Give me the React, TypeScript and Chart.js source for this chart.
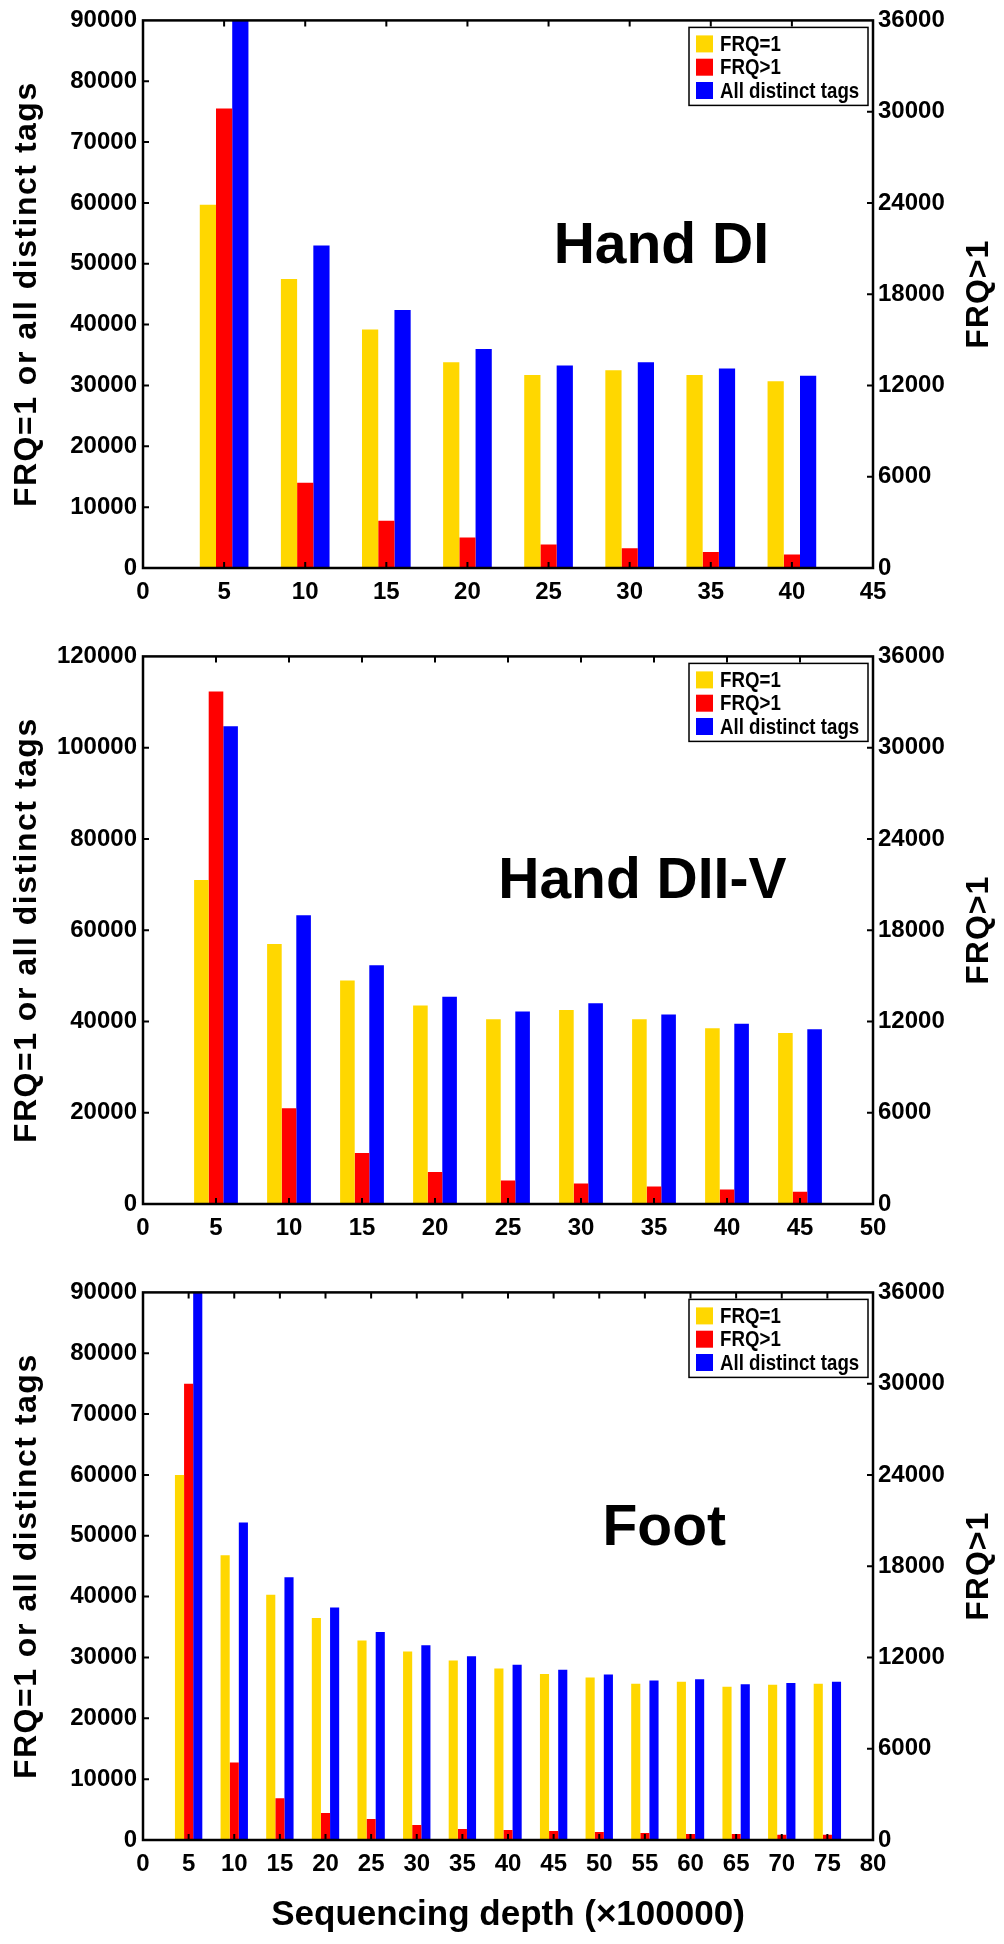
import { useEffect, useRef } from 'react';
import { Chart, registerables } from 'chart.js';

Chart.register(...registerables);

// ---------- data ----------
const depthDI = [5, 10, 15, 20, 25, 30, 35, 40];
const frq1DI = [59700, 47500, 39200, 33800, 31700, 32500, 31700, 30700];
const frqGt1DI = [30200, 5600, 3100, 2000, 1550, 1300, 1050, 880];
const allDI = [89900, 53000, 42400, 36000, 33300, 33800, 32800, 31600];

const depthDIIV = [5, 10, 15, 20, 25, 30, 35, 40, 45];
const frq1DIIV = [71000, 57000, 49000, 43500, 40500, 42500, 40500, 38500, 37500];
const frqGt1DIIV = [33700, 6300, 3350, 2100, 1550, 1350, 1150, 950, 800];
const allDIIV = [104700, 63300, 52300, 45400, 42200, 44000, 41500, 39500, 38300];

const depthFoot = [5, 10, 15, 20, 25, 30, 35, 40, 45, 50, 55, 60, 65, 70, 75];
const frq1Foot = [60000, 46800, 40300, 36500, 32800, 31000, 29500, 28200, 27300, 26700, 25700, 26000, 25200, 25500, 25700];
const frqGt1Foot = [30000, 5100, 2750, 1770, 1380, 990, 720, 660, 590, 525, 460, 400, 390, 350, 350];
const allFoot = [90000, 52200, 43200, 38200, 34200, 32000, 30200, 28800, 28000, 27200, 26200, 26400, 25600, 25800, 26000];

const panelNames = ['Hand DI', 'Hand DII-V', 'Foot'];
const xMaxes = [45, 50, 80];
const leftMaxes = [90000, 120000, 90000];
const leftSteps = [10000, 20000, 10000];
const rightMax = 36000;
const rightStep = 6000;
const xStep = 5;

const legendLabels = ['FRQ=1', 'FRQ>1', 'All distinct tags'];
const leftTitle = 'FRQ=1 or all distinct tags';
const rightTitle = 'FRQ>1';
const xTitle = 'Sequencing depth (\u00d7100000)';

// ---------- styles ----------
const COLORS = ['#FFD700', '#FF0000', '#0000FF'];
const FONT = "'Liberation Sans', Arial, Helvetica, sans-serif";
const W = 1004;
const PLOT_LEFT = 143;
const PLOT_RIGHT = 873;
const PLOT_TOP = 20;
const PLOT_BOTTOM = 568;

type PanelCfg = {
  name: string;
  depth: number[];
  frq1: number[];
  frqGt1: number[];
  all: number[];
  xMax: number;
  yMax: number;
  yStep: number;
  canvasH: number;
  labelFrac: number;
  labelBase: number;
  showXTitle: boolean;
};

const PANELS: PanelCfg[] = [
  { name: panelNames[0], depth: depthDI, frq1: frq1DI, frqGt1: frqGt1DI, all: allDI, xMax: xMaxes[0], yMax: leftMaxes[0], yStep: leftSteps[0], canvasH: 636, labelFrac: 0.71, labelBase: 243, showXTitle: false },
  { name: panelNames[1], depth: depthDIIV, frq1: frq1DIIV, frqGt1: frqGt1DIIV, all: allDIIV, xMax: xMaxes[1], yMax: leftMaxes[1], yStep: leftSteps[1], canvasH: 636, labelFrac: 0.684, labelBase: 242, showXTitle: false },
  { name: panelNames[2], depth: depthFoot, frq1: frq1Foot, frqGt1: frqGt1Foot, all: allFoot, xMax: xMaxes[2], yMax: leftMaxes[2], yStep: leftSteps[2], canvasH: 672, labelFrac: 0.714, labelBase: 253, showXTitle: true },
];

const decor = {
  id: 'decor',
  afterDraw(chart: any, _args: any, o: any) {
    const { ctx, chartArea: a, scales } = chart;
    ctx.save();
    ctx.strokeStyle = '#000';
    ctx.lineWidth = 2.5;
    ctx.strokeRect(a.left, a.top, a.right - a.left, a.bottom - a.top);

    // inward tick marks on all four sides
    const T = 6;
    ctx.lineWidth = 2;
    ctx.beginPath();
    for (const t of scales.x.ticks) {
      const px = scales.x.getPixelForValue(t.value);
      if (px <= a.left + 1 || px >= a.right - 1) continue;
      ctx.moveTo(px, a.bottom);
      ctx.lineTo(px, a.bottom - T);
      ctx.moveTo(px, a.top);
      ctx.lineTo(px, a.top + T);
    }
    for (const t of scales.y.ticks) {
      const py = scales.y.getPixelForValue(t.value);
      if (py <= a.top + 1 || py >= a.bottom - 1) continue;
      ctx.moveTo(a.left, py);
      ctx.lineTo(a.left + T, py);
    }
    for (const t of scales.y1.ticks) {
      const py = scales.y1.getPixelForValue(t.value);
      if (py <= a.top + 1 || py >= a.bottom - 1) continue;
      ctx.moveTo(a.right, py);
      ctx.lineTo(a.right - T, py);
    }
    ctx.stroke();

    // legend box
    const ds = chart.data.datasets;
    const bw = 179;
    const bh = 78;
    const bx = a.right - 5 - bw;
    const by = a.top + 7;
    ctx.fillStyle = '#fff';
    ctx.fillRect(bx, by, bw, bh);
    ctx.lineWidth = 1.5;
    ctx.strokeRect(bx, by, bw, bh);
    ctx.font = `bold 22px ${FONT}`;
    ctx.textBaseline = 'middle';
    ctx.textAlign = 'left';
    ds.forEach((d: any, i: number) => {
      const cy = by + 16.5 + i * 23.3;
      ctx.fillStyle = d.backgroundColor;
      ctx.fillRect(bx + 7, cy - 8.5, 17, 17);
      ctx.fillStyle = '#000';
      const natural = ctx.measureText(d.label).width;
      ctx.fillText(d.label, bx + 31, cy + 1, natural * 0.85);
    });

    // panel name
    ctx.fillStyle = '#000';
    ctx.font = `bold 57px ${FONT}`;
    ctx.textAlign = 'center';
    ctx.textBaseline = 'alphabetic';
    ctx.fillText(o.name, a.left + o.labelFrac * (a.right - a.left), a.top + o.labelBase);

    // axis titles (both read bottom-to-top)
    const cy = (a.top + a.bottom) / 2;
    ctx.save();
    ctx.translate(27, cy);
    ctx.rotate(-Math.PI / 2);
    ctx.font = `bold 32px ${FONT}`;
    ctx.letterSpacing = '1.5px';
    ctx.textBaseline = 'middle';
    ctx.textAlign = 'center';
    ctx.fillText(o.leftTitle, 0, 0);
    ctx.restore();

    ctx.save();
    ctx.translate(979, cy);
    ctx.rotate(-Math.PI / 2);
    ctx.font = `bold 32px ${FONT}`;
    ctx.letterSpacing = '1px';
    ctx.textBaseline = 'middle';
    ctx.textAlign = 'center';
    ctx.fillText(o.rightTitle, 0, 0);
    ctx.restore();

    ctx.restore();
  },
};

function Panel({ cfg }: { cfg: PanelCfg }) {
  const ref = useRef<HTMLCanvasElement>(null);
  useEffect(() => {
    if (!ref.current) return;
    const tickFont = { family: FONT, size: 24, weight: 'bold' as const };
    const chart = new Chart(ref.current, {
      type: 'bar',
      data: {
        datasets: [
          { label: legendLabels[0], data: cfg.depth.map((x, i) => ({ x, y: cfg.frq1[i] })), backgroundColor: COLORS[0], yAxisID: 'y' },
          { label: legendLabels[1], data: cfg.depth.map((x, i) => ({ x, y: cfg.frqGt1[i] })), backgroundColor: COLORS[1], yAxisID: 'y1' },
          { label: legendLabels[2], data: cfg.depth.map((x, i) => ({ x, y: cfg.all[i] })), backgroundColor: COLORS[2], yAxisID: 'y' },
        ] as any,
      },
      options: {
        responsive: false,
        animation: false,
        events: [],
        layout: { padding: { top: PLOT_TOP, left: 0, right: 0, bottom: 0 } },
        datasets: { bar: { categoryPercentage: 0.6, barPercentage: 1, borderWidth: 0 } },
        plugins: {
          legend: { display: false },
          tooltip: { enabled: false },
          decor: { name: cfg.name, labelFrac: cfg.labelFrac, labelBase: cfg.labelBase, leftTitle, rightTitle },
        } as any,
        scales: {
          x: {
            type: 'linear',
            min: 0,
            max: cfg.xMax,
            offset: false,
            grid: { display: false, drawTicks: false, offset: false },
            border: { display: false },
            ticks: { stepSize: xStep, autoSkip: false, maxRotation: 0, padding: 10, color: '#000', font: tickFont, callback: (v: any) => String(v) },
            title: {
              display: cfg.showXTitle,
              text: xTitle,
              color: '#000',
              font: { family: FONT, size: 35, weight: 'bold' },
              padding: { top: 0, bottom: 8 },
            },
            afterFit: (s: any) => { s.height = cfg.canvasH - PLOT_BOTTOM; },
          },
          y: {
            type: 'linear',
            position: 'left',
            min: 0,
            max: cfg.yMax,
            grid: { display: false, drawTicks: false },
            border: { display: false },
            ticks: { stepSize: cfg.yStep, padding: 6, color: '#000', font: tickFont, callback: (v: any) => String(v) },
            afterFit: (s: any) => { s.width = PLOT_LEFT; },
          },
          y1: {
            type: 'linear',
            position: 'right',
            min: 0,
            max: rightMax,
            grid: { display: false, drawTicks: false },
            border: { display: false },
            ticks: { stepSize: rightStep, padding: 5, color: '#000', font: tickFont, callback: (v: any) => String(v) },
            afterFit: (s: any) => { s.width = W - PLOT_RIGHT; },
          },
        } as any,
      },
      plugins: [decor],
    });
    return () => chart.destroy();
  }, [cfg]);
  return (
    <canvas
      ref={ref}
      width={W}
      height={cfg.canvasH}
      style={{ display: 'block', width: W, height: cfg.canvasH }}
    />
  );
}

export default function App() {
  return (
    <div style={{ position: 'absolute', left: 0, top: 0, width: W, height: 1944, background: '#fff' }}>
      {PANELS.map((p) => (
        <Panel key={p.name} cfg={p} />
      ))}
    </div>
  );
}
